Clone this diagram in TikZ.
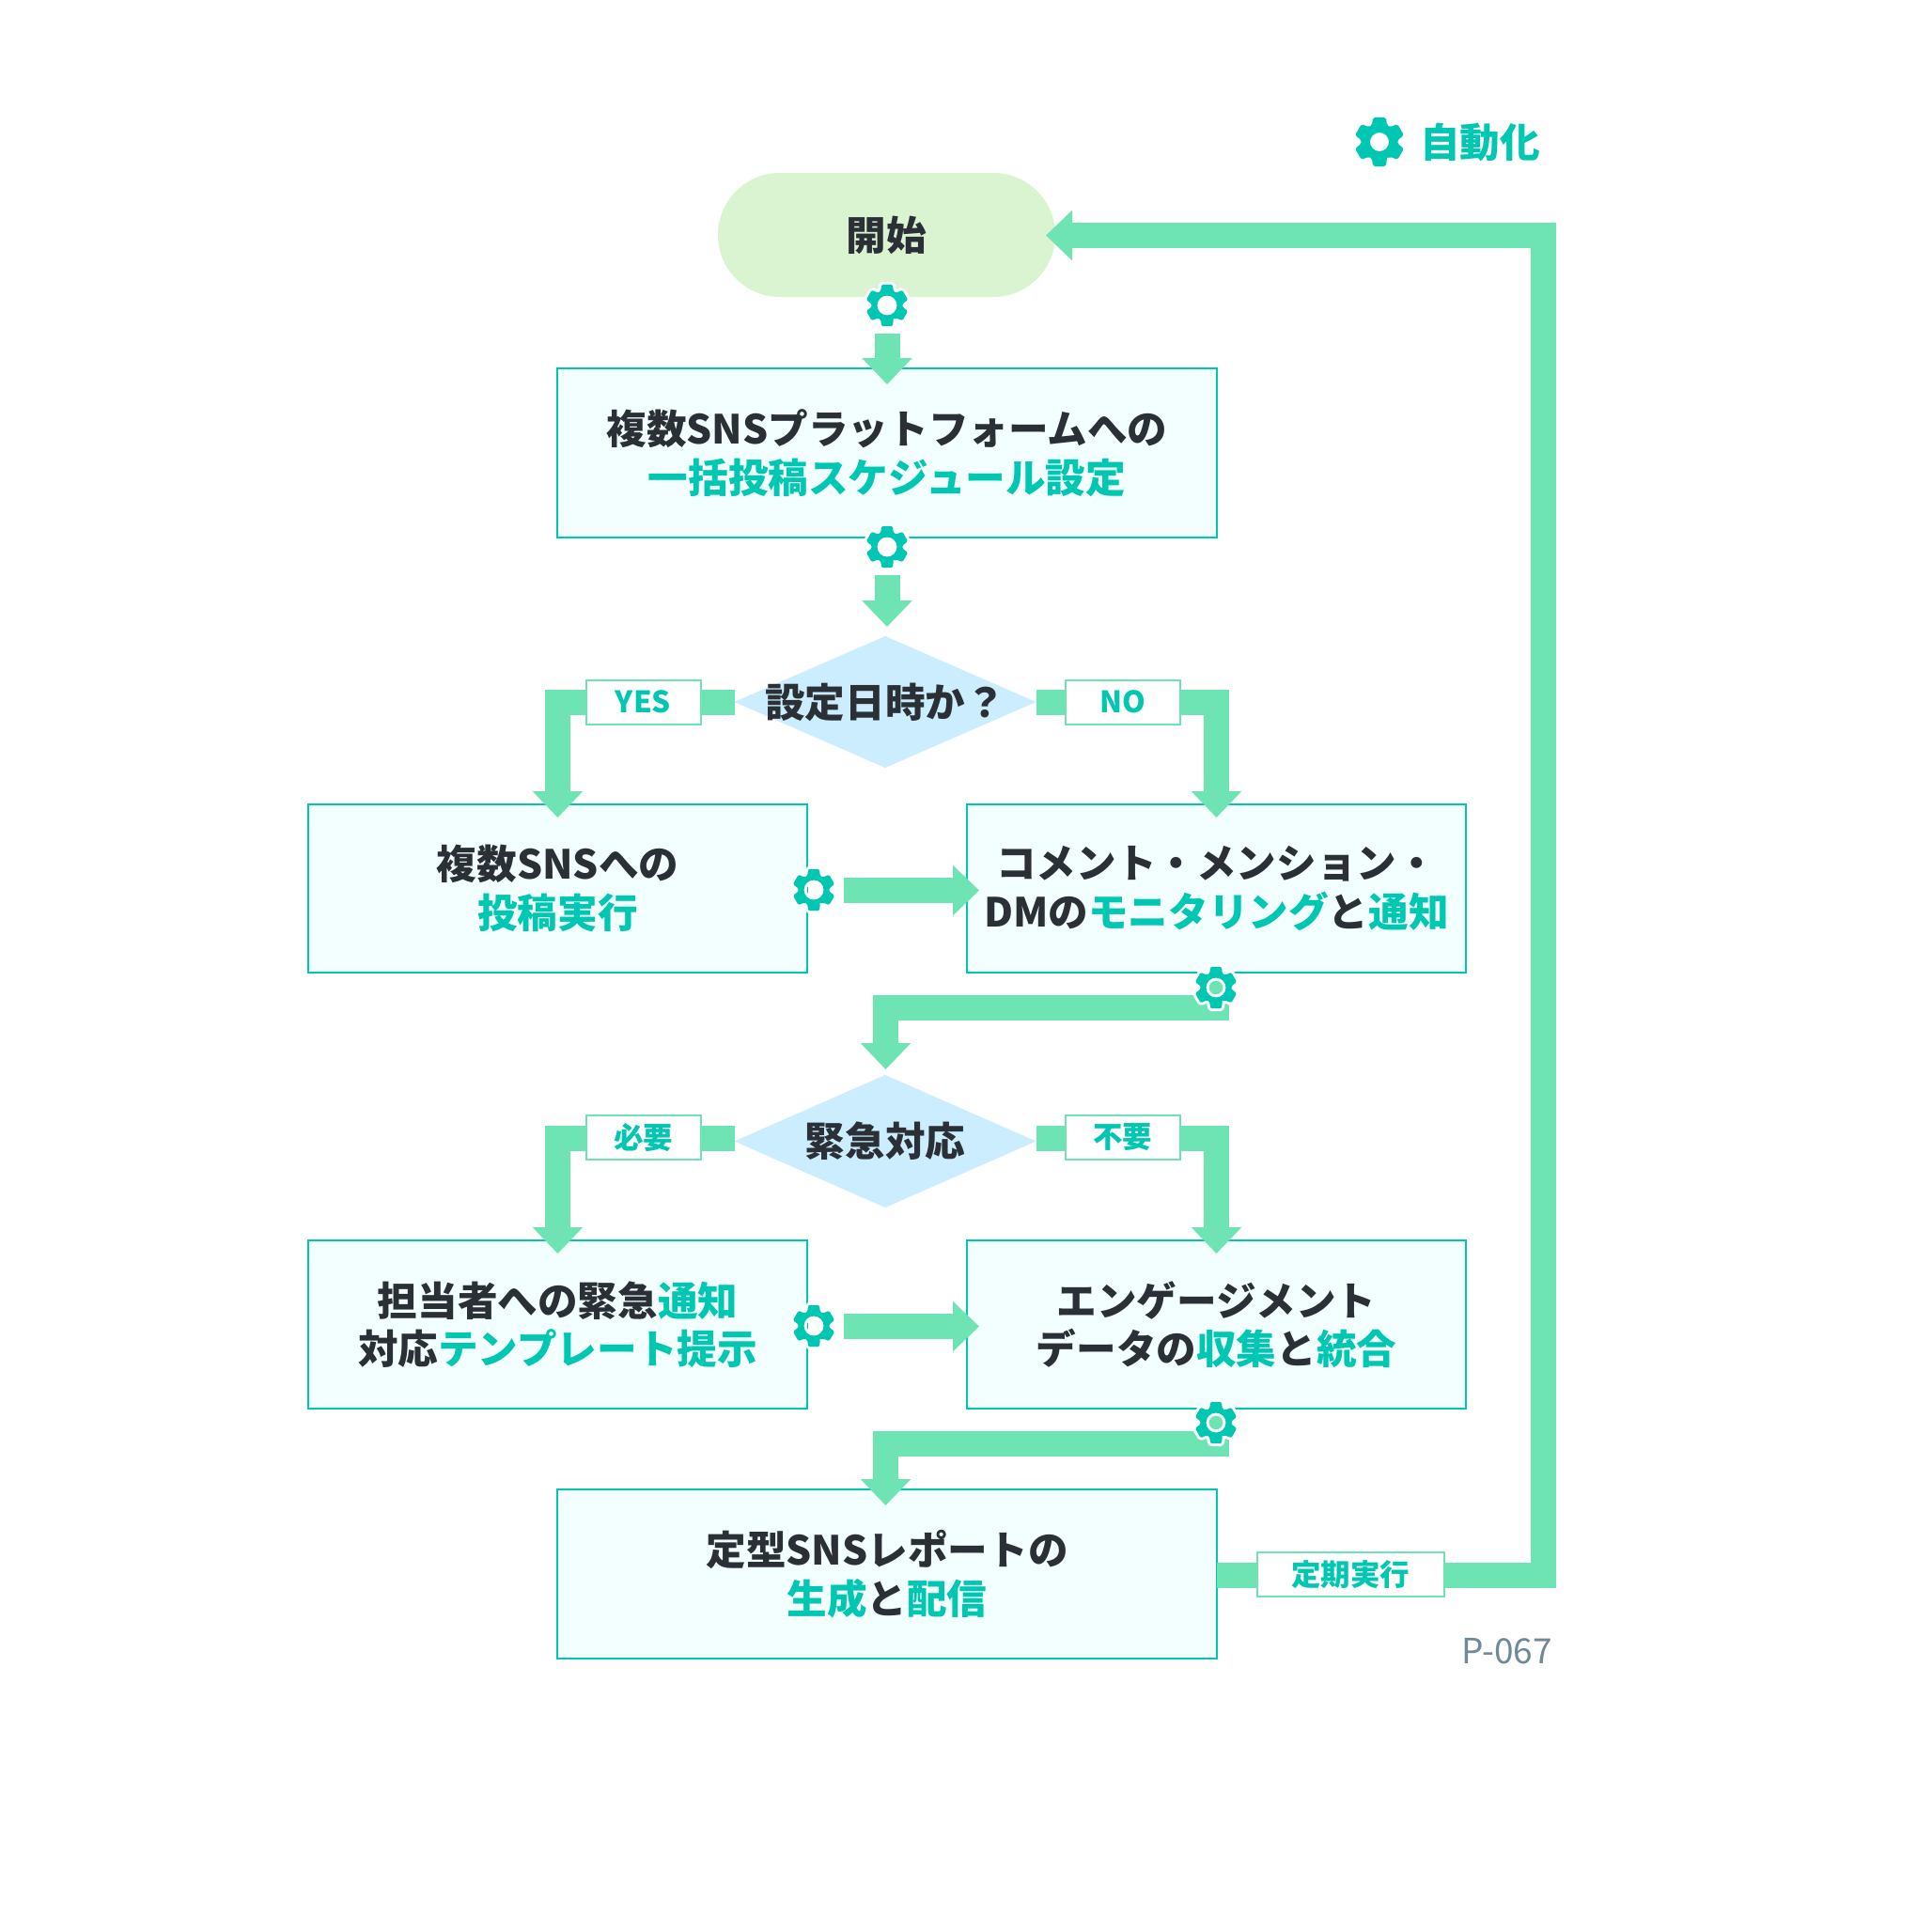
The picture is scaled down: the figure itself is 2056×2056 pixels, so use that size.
\documentclass[tikz,border=0pt]{standalone}
\usepackage{fontspec}
\setmainfont{Noto Sans CJK JP}
\usetikzlibrary{arrows.meta,shapes.geometric}
\definecolor{tl}{HTML}{00C7B1}
\definecolor{flowc}{HTML}{6EE4B4}
\definecolor{boxf}{HTML}{F2FFFE}
\definecolor{startf}{HTML}{DAF3D0}
\definecolor{diaf}{HTML}{CBEDFD}
\definecolor{ink}{HTML}{2B2F36}
\definecolor{code}{HTML}{6F8A96}
\newcommand{\hl}[1]{\textcolor{tl}{#1}}
% cog outline: outer radius #1, hole radius #2
\newcommand{\cogoutline}[2]{%
  (66:0.72*#1) \foreach \a in {90,150,210,270,330,390}{
    -- (\a-15:#1) -- (\a+15:#1) -- (\a+24:0.72*#1) -- (\a+36:0.72*#1)
  } -- cycle (0,0) circle (#2)}
\newcommand{\cogat}[2]{% position x,y
  \begin{scope}[shift={(#1,#2)}]
    \path[draw=white,line width=6pt,line join=round,rounded corners=1.5pt] \cogoutline{23}{10.5};
    \path[fill=tl,even odd rule,rounded corners=1.5pt] \cogoutline{23}{10.5};
  \end{scope}}
\tikzset{
  txt/.style={font=\fontsize{42.6}{51.5}\selectfont\bfseries,text=ink,align=center,inner sep=0pt,outer sep=0pt},
  stepbox/.style={txt,draw=tl,line width=2pt,fill=boxf,rectangle},
  startbox/.style={txt,fill=startf,rounded corners=66pt,minimum width=359pt,minimum height=132pt},
  dia/.style={shape=diamond,fill=diaf,minimum width=321pt,minimum height=140pt,inner sep=0pt,outer sep=0pt},
  tag/.style={rectangle,draw=flowc,line width=2pt,fill=white,text=tl,inner sep=0pt,outer sep=0pt,
    font=\fontsize{31.5}{36}\selectfont\bfseries,minimum height=47pt},
  flow/.style={draw=flowc,line width=27pt,line cap=butt,line join=miter,-{Triangle[width=52pt,length=28pt]}},
}
\begin{document}
\begin{tikzpicture}[x=1pt,y=-1pt]
\useasboundingbox[fill=white] (0,0) rectangle (2056,2056);

% legend
\begin{scope}[shift={(1468,151)}]
  \path[fill=tl,even odd rule,rounded corners=2pt] \cogoutline{27}{10};
\end{scope}
\node[txt,text=tl,anchor=west] (legend) at (1511,151) {自動化};

% boxes
\node[startbox] (start) at (943.5,250) {開始};
\node[stepbox,minimum width=702pt,minimum height=180pt] (box1) at (944,482)
  {複数SNSプラットフォームへの\\\hl{一括投稿スケジュール設定}};
\node[dia] (d1) at (942,747) {};
\node[txt] (d1t) at (942,747) {設定日時か？};
\node[stepbox,minimum width=531pt,minimum height=179pt] (box2) at (593.5,945.5)
  {複数SNSへの\\\hl{投稿実行}};
\node[stepbox,minimum width=531pt,minimum height=179pt] (box3) at (1294.5,945.5)
  {コメント・メンション・\\DMの\hl{モニタリング}と\hl{通知}};
\node[dia,minimum height=141pt] (d2) at (942,1214.5) {};
\node[txt] (d2t) at (942,1214) {緊急対応};
\node[stepbox,minimum width=531pt,minimum height=179pt] (box4) at (593.5,1409.5)
  {担当者への緊急\hl{通知}\\対応\hl{テンプレート提示}};
\node[stepbox,minimum width=531pt,minimum height=179pt] (box5) at (1294.5,1409.5)
  {エンゲージメント\\データの\hl{収集}と\hl{統合}};
\node[stepbox,minimum width=702pt,minimum height=180pt] (box6) at (944,1675)
  {定型SNSレポートの\\\hl{生成}と\hl{配信}};

% connector end points
\coordinate (a1s) at (944,355);  \coordinate (a1e) at (944,409);
\coordinate (a2s) at (944,612);  \coordinate (a2e) at (944,667);
\coordinate (ylS) at (782,747.5); \coordinate (ylC) at (593.5,747.5); \coordinate (ylE) at (593.5,870);
\coordinate (nlS) at (1103,747.5); \coordinate (nlC) at (1294.5,747.5); \coordinate (nlE) at (1294.5,870);
\coordinate (h1s) at (897.5,947.5); \coordinate (h1e) at (1042,947.5);
\coordinate (m1C) at (1294.5,1072.5); \coordinate (m1D) at (942.5,1072.5); \coordinate (m1E) at (942.5,1138);
\coordinate (ylS2) at (782,1211.5); \coordinate (ylC2) at (593.5,1211.5); \coordinate (ylE2) at (593.5,1334);
\coordinate (nlS2) at (1103,1211.5); \coordinate (nlC2) at (1294.5,1211.5); \coordinate (nlE2) at (1294.5,1334);
\coordinate (h2s) at (897.5,1411.5); \coordinate (h2e) at (1042,1411.5);
\coordinate (m2C) at (1294.5,1536.5); \coordinate (m2D) at (942.5,1536.5); \coordinate (m2E) at (942.5,1602);
\coordinate (rC1) at (1642.5,1676); \coordinate (rC2) at (1642.5,250.5); \coordinate (rE) at (1113,250.5);

% connectors
\draw[flow] (a1s) -- (a1e);
\draw[flow] (a2s) -- (a2e);
\draw[flow] (ylS) -- (ylC) -- (ylE);
\draw[flow] (nlS) -- (nlC) -- (nlE);
\draw[flow] (h1s) -- (h1e);
\draw[flow] (box3.south) -- (m1C) -- (m1D) -- (m1E);
\draw[flow] (ylS2) -- (ylC2) -- (ylE2);
\draw[flow] (nlS2) -- (nlC2) -- (nlE2);
\draw[flow] (h2s) -- (h2e);
\draw[flow] (box5.south) -- (m2C) -- (m2D) -- (m2E);
\draw[flow] (box6.east |- rC1) -- (rC1) -- (rC2) -- (rE);

% connector labels
\node[tag,minimum width=122pt] (yes) at (684.5,747) {YES};
\node[tag,minimum width=122pt] (no) at (1194.5,747) {NO};
\node[tag,minimum width=122pt] (need) at (684.5,1210.5) {必要};
\node[tag,minimum width=122pt] (noneed) at (1194.5,1210.5) {不要};
\node[tag,minimum width=199pt] (regular) at (1437,1675.5) {定期実行};

% cogs
\cogat{944}{325}
\cogat{944}{582}
\cogat{866}{947}
\cogat{1294}{1051}
\cogat{866}{1411}
\cogat{1294}{1514}

% page code
\node[anchor=east,inner sep=0pt,text=code,font=\fontsize{37}{42}\selectfont] (code) at (1652,1757) {P-067};
\end{tikzpicture}
\end{document}
